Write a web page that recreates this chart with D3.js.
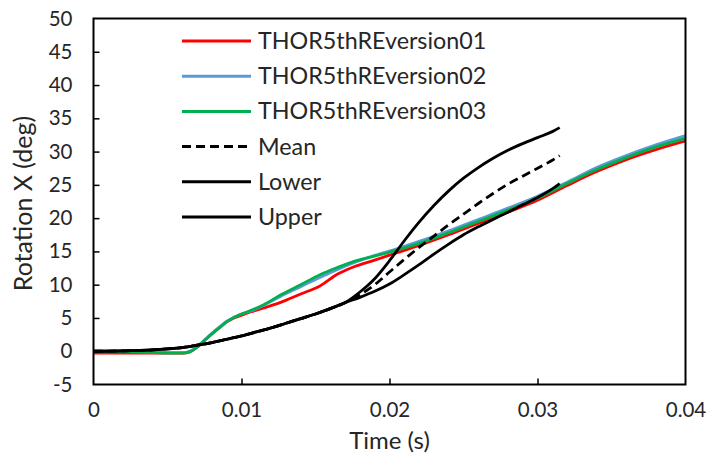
<!DOCTYPE html>
<html>
<head>
<meta charset="utf-8">
<script src="https://cdn.jsdelivr.net/npm/d3@7/dist/d3.min.js"></script>
<style>
  html, body { margin: 0; padding: 0; background: #fff; }
  svg { display: block; }
  text { font-family: Lato, "Open Sans", sans-serif; fill: #262626; }
</style>
</head>
<body>
<svg id="chart" width="711" height="464"></svg>
<script>
// Time samples (s) for the three simulation runs
const runTime = [0, 0.002, 0.004, 0.005, 0.006, 0.0065, 0.007, 0.0075, 0.008, 0.0086, 0.009, 0.0095,
  0.01, 0.0106, 0.0115, 0.0126, 0.014, 0.0153, 0.0165, 0.0176, 0.019, 0.0205, 0.022,
  0.024, 0.026, 0.028, 0.03, 0.032, 0.034, 0.036, 0.038, 0.04];
const version01 = [-0.3, -0.3, -0.3, -0.3, -0.3, -0.1, 0.6, 1.6, 2.6, 3.7, 4.4, 5.0,
  5.4, 5.9, 6.5, 7.3, 8.6, 9.8, 11.6, 12.7, 13.7, 14.8, 15.9,
  17.5, 19.2, 20.9, 22.7, 24.9, 27.0, 28.8, 30.3, 31.6];
const version02 = [0, 0, -0.1, -0.2, -0.2, 0, 0.7, 1.7, 2.7, 3.8, 4.5, 5.1,
  5.6, 6.0, 6.9, 8.2, 9.7, 11.1, 12.3, 13.3, 14.4, 15.4, 16.5,
  18.1, 19.8, 21.5, 23.3, 25.4, 27.6, 29.4, 31.0, 32.4];
const version03 = [-0.1, -0.1, -0.2, -0.3, -0.3, -0.1, 0.6, 1.6, 2.6, 3.7, 4.4, 5.1,
  5.6, 6.1, 7.0, 8.4, 10.0, 11.5, 12.6, 13.5, 14.3, 15.2, 16.2,
  17.8, 19.5, 21.2, 23.0, 25.2, 27.3, 29.1, 30.7, 32.0];

// Time samples (s) for the reference corridor
const corridorTime = [0, 0.002, 0.004, 0.005, 0.006, 0.007, 0.008, 0.009, 0.01, 0.011, 0.012,
  0.013, 0.014, 0.015, 0.016, 0.017, 0.018, 0.019, 0.02, 0.021, 0.022, 0.023,
  0.024, 0.025, 0.026, 0.027, 0.028, 0.029, 0.03, 0.031, 0.0315];
const meanCurve = [0, 0.05, 0.2, 0.35, 0.55, 0.9, 1.3, 1.8, 2.3, 2.9, 3.5,
  4.2, 4.9, 5.6, 6.4, 7.3, 8.5, 10.0, 11.9, 13.8, 15.6, 17.3,
  19.0, 20.6, 22.2, 23.7, 25.1, 26.3, 27.5, 28.7, 29.4];
const lowerCurve = [0, 0.05, 0.2, 0.35, 0.55, 0.9, 1.3, 1.8, 2.3, 2.9, 3.5,
  4.2, 4.9, 5.6, 6.4, 7.3, 8.1, 9.0, 10.1, 11.5, 13.0, 14.6,
  16.1, 17.5, 18.7, 19.8, 20.9, 22.0, 23.1, 24.4, 25.2];
const upperCurve = [0, 0.05, 0.2, 0.35, 0.55, 0.9, 1.3, 1.8, 2.3, 2.9, 3.5,
  4.2, 4.9, 5.6, 6.4, 7.3, 8.9, 10.9, 13.6, 16.6, 19.4, 21.9,
  24.1, 26.0, 27.6, 29.0, 30.2, 31.2, 32.1, 33.0, 33.6];

const xTicks = [0, 0.01, 0.02, 0.03, 0.04];
const yTicks = [-5, 0, 5, 10, 15, 20, 25, 30, 35, 40, 45, 50];

const seriesNames = ["THOR5thREversion01", "THOR5thREversion02", "THOR5thREversion03", "Mean", "Lower", "Upper"];

const series = [
  { name: seriesNames[0], t: runTime, v: version01, color: "#ff0000", dash: null },
  { name: seriesNames[1], t: runTime, v: version02, color: "#5b9bd5", dash: null },
  { name: seriesNames[2], t: runTime, v: version03, color: "#00b050", dash: null },
  { name: seriesNames[3], t: corridorTime, v: meanCurve, color: "#000000", dash: "9,5" },
  { name: seriesNames[4], t: corridorTime, v: lowerCurve, color: "#000000", dash: null },
  { name: seriesNames[5], t: corridorTime, v: upperCurve, color: "#000000", dash: null }
];

const svg = d3.select("#chart");
const plot = { left: 93.5, right: 685.5, top: 18.5, bottom: 384.5 };

const x = d3.scaleLinear().domain([0, 0.04]).range([plot.left, plot.right]);
const y = d3.scaleLinear().domain([-5, 50]).range([plot.bottom, plot.top]);

// Data lines, clipped to the plot area
svg.append("clipPath").attr("id", "plotClip")
  .append("rect")
  .attr("x", plot.left).attr("y", plot.top)
  .attr("width", plot.right - plot.left).attr("height", plot.bottom - plot.top);

const line = d3.line().curve(d3.curveMonotoneX);

const lines = svg.append("g").attr("clip-path", "url(#plotClip)");
series.forEach(s => {
  lines.append("path")
    .datum(s.t.map((t, i) => [x(t), y(s.v[i])]))
    .attr("d", line)
    .attr("fill", "none")
    .attr("stroke", s.color)
    .attr("stroke-width", 2.8)
    .attr("stroke-linejoin", "round")
    .attr("stroke-dasharray", s.dash);
});

// Frame around the plot area
svg.append("rect")
  .attr("x", plot.left).attr("y", plot.top)
  .attr("width", plot.right - plot.left).attr("height", plot.bottom - plot.top)
  .attr("fill", "none").attr("stroke", "#000").attr("stroke-width", 2);

// Axes with inward ticks
const tickFont = 20.5;
const xAxis = d3.axisBottom(x).tickValues(xTicks).tickSize(-6).tickPadding(18)
  .tickFormat(d => d === 0 ? "0" : d3.format(".2f")(d));
const gx = svg.append("g").attr("transform", `translate(0,${plot.bottom})`).call(xAxis);
gx.select(".domain").remove();
gx.selectAll(".tick line").attr("stroke", "#000").attr("stroke-width", 1.5)
  .filter(d => d === 0 || d === 0.04).remove();
gx.selectAll(".tick text").attr("font-size", tickFont).attr("font-family", "Lato").attr("fill", "#262626");

const yAxis = d3.axisLeft(y).tickValues(yTicks).tickSize(-6).tickPadding(21)
  .tickFormat(d => String(d));
const gy = svg.append("g").attr("transform", `translate(${plot.left},0)`).call(yAxis);
gy.select(".domain").remove();
gy.selectAll(".tick line").attr("stroke", "#000").attr("stroke-width", 1.5)
  .filter(d => d === -5 || d === 50).remove();
gy.selectAll(".tick text").attr("font-size", tickFont).attr("font-family", "Lato").attr("fill", "#262626");

// Axis titles
svg.append("text")
  .attr("x", (plot.left + plot.right) / 2).attr("y", 449)
  .attr("text-anchor", "middle").attr("font-size", 24)
  .text("Time (s)");

svg.append("text")
  .attr("transform", `translate(32,${(plot.top + plot.bottom) / 2 + 2}) rotate(-90)`)
  .attr("text-anchor", "middle").attr("font-size", 25)
  .text("Rotation X (deg)");

// Legend
const legend = svg.append("g");
series.forEach((s, i) => {
  const ly = 41 + i * 35.2;
  legend.append("line")
    .attr("x1", 182).attr("x2", 251).attr("y1", ly).attr("y2", ly)
    .attr("stroke", s.color).attr("stroke-width", 3)
    .attr("stroke-dasharray", s.dash ? "9,5" : null);
  legend.append("text")
    .attr("x", 258).attr("y", ly + 8)
    .attr("font-size", 23.3)
    .text(s.name);
});
</script>
</body>
</html>
